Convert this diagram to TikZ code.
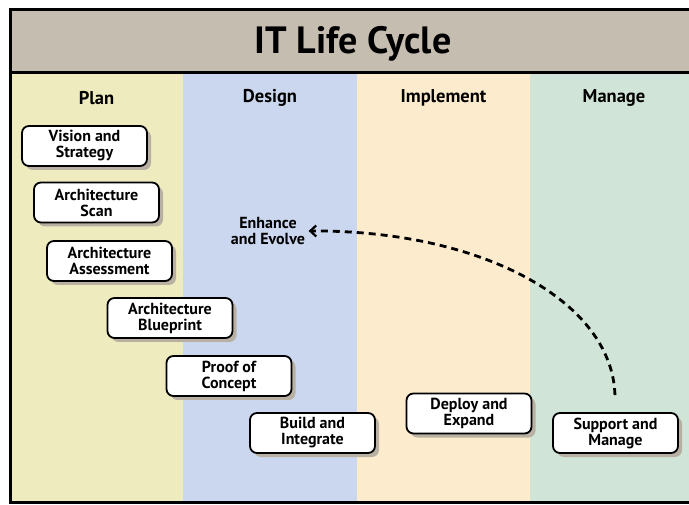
\documentclass[tikz,border=0pt]{standalone}
\usepackage{fontspec}
\setmainfont{PT Sans}
\usepackage{xcolor}
\usetikzlibrary{arrows.meta,shadows}
\definecolor{titlebg}{HTML}{C6BDB1}
\definecolor{planbg}{HTML}{EEEBBE}
\definecolor{designbg}{HTML}{CBD7EE}
\definecolor{implbg}{HTML}{FDEBCE}
\definecolor{managebg}{HTML}{D0E5D7}
\definecolor{shadowc}{HTML}{B9B0A4}
\tikzset{Stage/.style={rounded corners=7pt,draw=black,line width=1.8pt,fill=white,
    minimum width=125pt,minimum height=40pt,align=center,inner sep=1pt,
    font=\fontsize{16}{16}\selectfont\bfseries,
    drop shadow={shadow xshift=4pt,shadow yshift=-4pt,fill=shadowc,opacity=1}}}
\tikzset{Head/.style={font=\fontsize{18.5}{20}\selectfont\bfseries}}
\begin{document}
\begin{tikzpicture}[x=1pt,y=-1pt]
    \useasboundingbox (0,0) rectangle (689,505);
    \fill[white] (0,0) rectangle (689,505);
    % columns
    \fill[titlebg] (10,10) rectangle (689,73);
    \fill[planbg] (10,73) rectangle (183,502);
    \fill[designbg] (183,73) rectangle (357,502);
    \fill[implbg] (357,73) rectangle (530,502);
    \fill[managebg] (530,73) rectangle (689,502);
    \draw[line width=3pt] (689,10) -- (10,10) -- (10,502) -- (689,502);
    \draw[line width=3pt] (10,73) -- (689,73);
    \node[font=\fontsize{38}{40}\selectfont\bfseries] (title) at (353,44) {IT Life Cycle};
    \node[Head] (plan) at (96.5,98) {Plan};
    \node[Head] (design) at (270,98) {Design};
    \node[Head] (impl) at (443.5,98) {Implement};
    \node[Head] (manage) at (614,98) {Manage};
    % stages
    \node[Stage] (vs) at (84.5,146) {Vision and\\Strategy};
    \node[Stage] (as) at (96.5,202.5) {Architecture\\Scan};
    \node[Stage] (aa) at (109.5,261) {Architecture\\Assessment};
    \node[Stage] (ab) at (170,318) {Architecture\\Blueprint};
    \node[Stage] (pc) at (229,376) {Proof of\\Concept};
    \node[Stage] (bi) at (312.5,433) {Build and\\Integrate};
    \node[Stage] (de) at (469,413.5) {Deploy and\\Expand};
    \node[Stage] (sm) at (615.5,433) {Support and\\Manage};
    \node[align=center,font=\fontsize{16}{16}\selectfont\bfseries] (enh) at (268,231) {Enhance\\and Evolve};
    \draw[line width=2.8pt,dash pattern=on 7pt off 5pt,-{Straight Barb[length=6pt,width=11pt,line width=2.2pt]},shorten <=17pt]
      (sm.north) .. controls (612,300) and (480,230) .. (enh.east);
\end{tikzpicture}
\end{document}
